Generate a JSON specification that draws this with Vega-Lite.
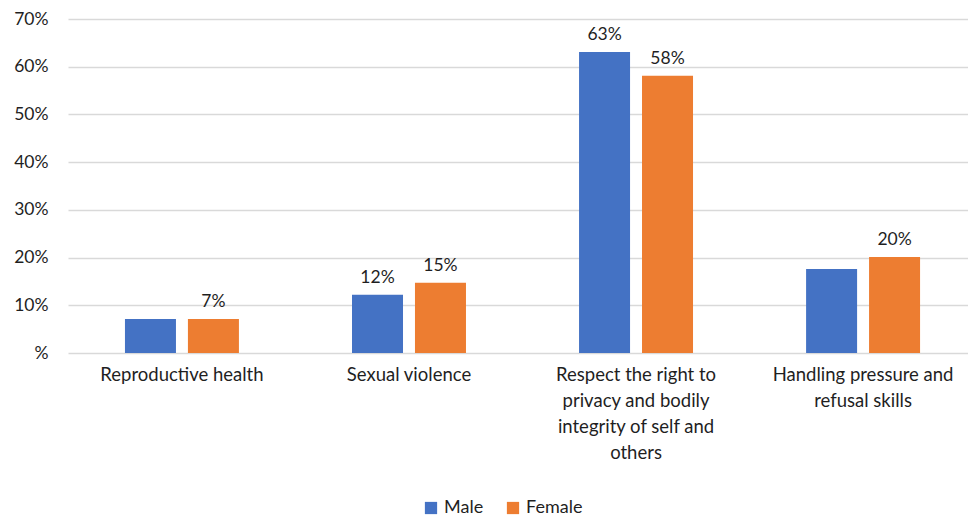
{
  "$schema": "https://vega.github.io/schema/vega-lite/v6.json",
  "width": 900,
  "height": 334,
  "autosize": {"type": "none"},
  "padding": {"left": 68, "top": 19, "right": 0, "bottom": 167},
  "config": {
    "view": {"stroke": null},
    "font": "Lato",
    "text": {"font": "Lato"}
  },
  "data": {
    "values": [
      {"topic": "Reproductive health", "gender": "Male", "value": 7.1, "label": ""},
      {"topic": "Reproductive health", "gender": "Female", "value": 7.1, "label": "7%"},
      {"topic": "Sexual violence", "gender": "Male", "value": 12.2, "label": "12%"},
      {"topic": "Sexual violence", "gender": "Female", "value": 14.7, "label": "15%"},
      {"topic": "Respect the right to privacy and bodily integrity of self and others", "gender": "Male", "value": 63.1, "label": "63%"},
      {"topic": "Respect the right to privacy and bodily integrity of self and others", "gender": "Female", "value": 58.1, "label": "58%"},
      {"topic": "Handling pressure and refusal skills", "gender": "Male", "value": 17.6, "label": ""},
      {"topic": "Handling pressure and refusal skills", "gender": "Female", "value": 20.1, "label": "20%"}
    ]
  },
  "encoding": {
    "x": {
      "field": "topic",
      "type": "nominal",
      "sort": null,
      "title": null,
      "scale": {"paddingInner": 0.498, "paddingOuter": 0.231, "align": 0.543},
      "axis": {
        "labelAngle": 0,
        "ticks": false,
        "domain": false,
        "labelFont": "Lato",
        "labelFontSize": 18.5,
        "labelColor": "#1f1f1f",
        "labelPadding": 21,
        "labelLineHeight": 26,
        "labelLimit": 300,
        "labelBaseline": "middle",
        "labelExpr": "datum.value == 'Respect the right to privacy and bodily integrity of self and others' ? ['Respect the right to', 'privacy and bodily', 'integrity of self and', 'others'] : datum.value == 'Handling pressure and refusal skills' ? ['Handling pressure and', 'refusal skills'] : datum.value"
      }
    },
    "xOffset": {
      "field": "gender",
      "type": "nominal",
      "sort": ["Male", "Female"],
      "scale": {"paddingInner": 0.19, "paddingOuter": 0}
    },
    "y": {
      "field": "value",
      "type": "quantitative",
      "title": null,
      "scale": {"domain": [0, 70], "nice": false},
      "axis": {
        "values": [0, 10, 20, 30, 40, 50, 60, 70],
        "ticks": false,
        "domain": false,
        "grid": true,
        "gridColor": "#D9D9D9",
        "gridWidth": 1.3,
        "labelFont": "Lato",
        "labelFontSize": 17.5,
        "labelColor": "#1f1f1f",
        "labelPadding": 20,
        "labelExpr": "datum.value == 0 ? '%' : datum.value + '%'"
      }
    }
  },
  "layer": [
    {
      "mark": {"type": "bar"},
      "encoding": {
        "color": {
          "field": "gender",
          "type": "nominal",
          "sort": ["Male", "Female"],
          "scale": {"domain": ["Male", "Female"], "range": ["#4472C4", "#ED7D31"]},
          "legend": {
            "title": null,
            "orient": "none",
            "direction": "horizontal",
            "legendX": 354,
            "legendY": 480,
            "symbolType": "square",
            "symbolSize": 150,
            "symbolStrokeWidth": 0,
            "labelFont": "Lato",
            "labelFontSize": 18,
            "labelColor": "#1f1f1f",
            "labelOffset": 4,
            "columnPadding": 20
          }
        }
      }
    },
    {
      "mark": {"type": "text", "baseline": "bottom", "dy": -8, "fontSize": 17.5, "color": "#1f1f1f", "font": "Lato"},
      "encoding": {
        "text": {"field": "label"}
      }
    }
  ]
}
